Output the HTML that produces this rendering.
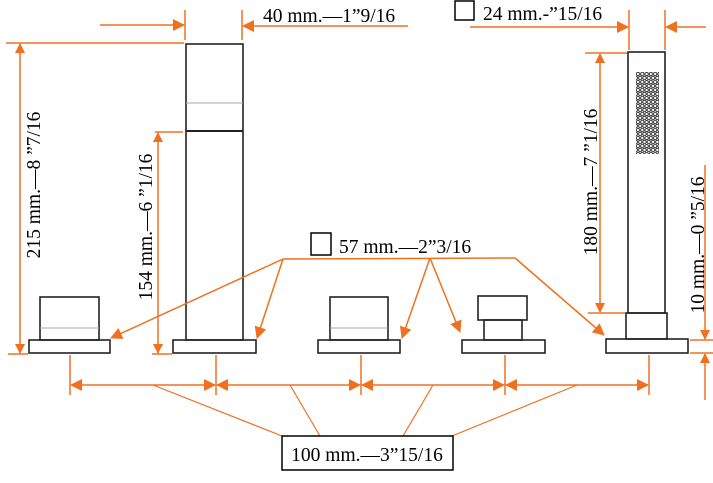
<!DOCTYPE html>
<html><head><meta charset="utf-8"><style>
html,body{margin:0;padding:0;background:#fff;}
svg{display:block;}
text{font-family:"Liberation Serif",serif;font-size:19.5px;fill:#000;}
</style></head><body>
<svg width="713" height="483" viewBox="0 0 713 483" xmlns="http://www.w3.org/2000/svg">
<defs>
<marker id="a" markerWidth="10" markerHeight="10" refX="9" refY="5" orient="auto" markerUnits="userSpaceOnUse"><path d="M0,0 L10,5 L0,10 z" fill="#f07020"/></marker>
<marker id="b" markerWidth="12" markerHeight="12" refX="11" refY="6" orient="auto" markerUnits="userSpaceOnUse"><path d="M0,0 L12,6 L0,12 z" fill="#f07020"/></marker>
<pattern id="dots" x="636" y="72" width="8.6" height="8" patternUnits="userSpaceOnUse">
<circle cx="2" cy="2" r="1.7" fill="none" stroke="#333" stroke-width="1"/>
<circle cx="6.3" cy="2" r="1.7" fill="none" stroke="#333" stroke-width="1"/>
<circle cx="4.15" cy="6" r="1.7" fill="none" stroke="#333" stroke-width="1"/>
<circle cx="-0.15" cy="6" r="1.7" fill="none" stroke="#333" stroke-width="1"/>
<circle cx="8.45" cy="6" r="1.7" fill="none" stroke="#333" stroke-width="1"/>
</pattern>
</defs>
<g fill="none" stroke="#222" stroke-width="1.6">
<rect x="40" y="297" width="59" height="43"/>
<rect x="29" y="340" width="81" height="13"/>
<rect x="186" y="44" width="57" height="296"/>
<rect x="173" y="340" width="83" height="13"/>
<rect x="330" y="297" width="58" height="43"/>
<rect x="318" y="340" width="82" height="13"/>
<rect x="478" y="296" width="49" height="24"/>
<rect x="484" y="320" width="38" height="20"/>
<rect x="462" y="340" width="83" height="13"/>
<rect x="628" y="52" width="37" height="261"/>
<rect x="626" y="313" width="41" height="26"/>
<rect x="606" y="339" width="82" height="14"/>
</g>
<g stroke="#222" stroke-width="2"><line x1="186" y1="131" x2="243" y2="131"/></g>
<g stroke="#aaa" stroke-width="1"><line x1="186" y1="103" x2="243" y2="103"/><line x1="40" y1="328" x2="99" y2="328"/><line x1="330" y1="328" x2="388" y2="328"/></g>
<rect x="636" y="72" width="23" height="82" fill="url(#dots)"/>
<g stroke="#f07020" stroke-width="1.5" fill="none">
<line x1="185" y1="10" x2="185" y2="40"/><line x1="242" y1="10" x2="242" y2="40"/>
<line x1="100" y1="25" x2="184" y2="25" marker-end="url(#b)"/>
<line x1="408" y1="26" x2="243" y2="26" marker-end="url(#b)"/>
<line x1="6" y1="43" x2="184" y2="43"/>
<line x1="8" y1="354" x2="28" y2="354"/>
<line x1="20" y1="200" x2="20" y2="44" marker-end="url(#a)"/>
<line x1="20" y1="200" x2="20" y2="353" marker-end="url(#a)"/>
<line x1="155" y1="132" x2="183" y2="132"/>
<line x1="152" y1="354" x2="172" y2="354"/>
<line x1="158" y1="240" x2="158" y2="133" marker-end="url(#a)"/>
<line x1="158" y1="240" x2="158" y2="353" marker-end="url(#a)"/>
<line x1="629" y1="10" x2="629" y2="50"/><line x1="665" y1="10" x2="665" y2="50"/>
<line x1="470" y1="27" x2="628" y2="27" marker-end="url(#b)"/>
<line x1="706" y1="27" x2="666" y2="27" marker-end="url(#b)"/>
<line x1="585" y1="53" x2="627" y2="53"/>
<line x1="588" y1="313" x2="625" y2="313"/>
<line x1="600" y1="180" x2="600" y2="54" marker-end="url(#a)"/>
<line x1="600" y1="180" x2="600" y2="312" marker-end="url(#a)"/>
<line x1="690" y1="340" x2="713" y2="340"/>
<line x1="690" y1="353" x2="713" y2="353"/>
<line x1="705" y1="165" x2="705" y2="339" marker-end="url(#a)"/>
<line x1="705" y1="400" x2="705" y2="354" marker-end="url(#a)"/>
<line x1="283" y1="259" x2="515" y2="258"/>
<line x1="283" y1="259" x2="111" y2="338" marker-end="url(#b)"/>
<line x1="283" y1="259" x2="257" y2="338" marker-end="url(#b)"/>
<line x1="430" y1="258" x2="402" y2="338" marker-end="url(#b)"/>
<line x1="430" y1="258" x2="460" y2="332" marker-end="url(#b)"/>
<line x1="515" y1="258" x2="604" y2="335" marker-end="url(#b)"/>
<line x1="70" y1="355" x2="70" y2="395"/>
<line x1="216" y1="355" x2="216" y2="395"/>
<line x1="361" y1="355" x2="361" y2="395"/>
<line x1="505" y1="355" x2="505" y2="395"/>
<line x1="649" y1="355" x2="649" y2="395"/>
<line x1="143" y1="385" x2="71" y2="385" marker-end="url(#b)"/>
<line x1="143" y1="385" x2="215" y2="385" marker-end="url(#b)"/>
<line x1="288" y1="385" x2="217" y2="385" marker-end="url(#b)"/>
<line x1="288" y1="385" x2="360" y2="385" marker-end="url(#b)"/>
<line x1="433" y1="385" x2="362" y2="385" marker-end="url(#b)"/>
<line x1="433" y1="385" x2="504" y2="385" marker-end="url(#b)"/>
<line x1="577" y1="385" x2="506" y2="385" marker-end="url(#b)"/>
<line x1="577" y1="385" x2="648" y2="385" marker-end="url(#b)"/>
<line x1="153" y1="385" x2="282" y2="436" stroke-width="1.2"/>
<line x1="290" y1="385" x2="320" y2="436" stroke-width="1.2"/>
<line x1="433" y1="385" x2="403" y2="436" stroke-width="1.2"/>
<line x1="577" y1="385" x2="452" y2="436" stroke-width="1.2"/>
</g>
<rect x="455" y="1" width="19" height="19" fill="none" stroke="#000" stroke-width="1.5"/>
<rect x="311" y="233" width="20" height="22" fill="none" stroke="#000" stroke-width="1.5"/>
<rect x="282" y="436" width="171" height="34" fill="#fff" stroke="#000" stroke-width="1.5"/>
<text x="263" y="22">40 mm.—1”9/16</text>
<text x="483" y="20">24 mm.-”15/16</text>
<text x="339" y="253">57 mm.—2”3/16</text>
<text x="367" y="461" text-anchor="middle">100 mm.—3”15/16</text>
<text transform="translate(40,185) rotate(-90)" text-anchor="middle">215 mm.—8 ”7/16</text>
<text transform="translate(152,227) rotate(-90)" text-anchor="middle">154 mm.—6 ”1/16</text>
<text transform="translate(597,182) rotate(-90)" text-anchor="middle">180 mm.—7 ”1/16</text>
<text transform="translate(704,245) rotate(-90)" text-anchor="middle">10 mm.—0 ”5/16</text>
</svg>
</body></html>
